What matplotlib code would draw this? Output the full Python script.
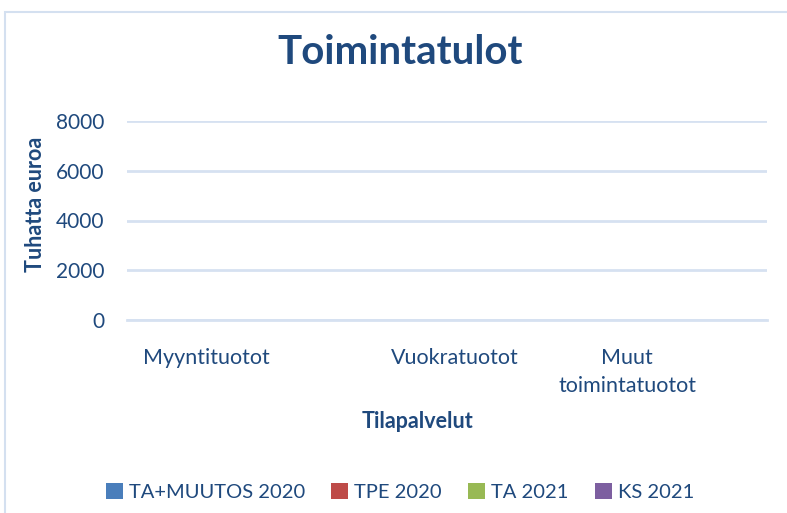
import matplotlib.pyplot as plt
import matplotlib.transforms as mtransforms
from matplotlib.patches import Rectangle
import numpy as np

plt.rcParams['font.family'] = ['Lato', 'DejaVu Sans']

categories = ['Myyntituotot', 'Vuokratuotot', 'Muut\ntoimintatuotot']
series_names = ['TA+MUUTOS 2020', 'TPE 2020', 'TA 2021', 'KS 2021']
ta_muutos_2020 = [0, 0, 0]
tpe_2020 = [0, 0, 0]
ta_2021 = [0, 0, 0]
ks_2021 = [0, 0, 0]
yticks = [0, 2000, 4000, 6000, 8000]

text_col = '#1F497D'
grid_col = '#D6E1F1'
colors = ['#4A7EBB', '#BE4B48', '#98B954', '#7D5FA0']

fig = plt.figure(figsize=(7.87, 5.13), dpi=100)
W, H = 787, 513
ax = fig.add_axes([127 / W, 1 - 320 / H, 640 / W, 199 / H])

x = np.arange(len(categories))
width = 0.15
all_series = [ta_muutos_2020, tpe_2020, ta_2021, ks_2021]
for i, (vals, name) in enumerate(zip(all_series, series_names)):
    ax.bar(x + (i - 1.5) * width, vals, width, color=colors[i], label=name, linewidth=0)

ax.set_ylim(0, 8000)
ax.set_xlim(-0.5, 2.5)
ax.set_yticks(yticks)
ax.set_yticklabels([str(v) for v in yticks])
ax.yaxis.grid(True, color=grid_col, linewidth=2)
ax.set_axisbelow(True)
for s in ax.spines.values():
    s.set_visible(False)
ax.axhline(0, color=grid_col, linewidth=2, clip_on=False)
ax.tick_params(axis='both', length=0, labelcolor=text_col)
ax.tick_params(axis='y', pad=16, labelsize=15)
ax.tick_params(axis='x', pad=20, labelsize=15.5)

ax.set_xticks(x)
ax.set_xticklabels(categories, linespacing=1.5)
offsets = [-27, 8, -33]
for lab, dx in zip(ax.get_xticklabels(), offsets):
    lab.set_transform(lab.get_transform() + mtransforms.ScaledTranslation(dx / 100, 0, fig.dpi_scale_trans))

fig.text(400 / W, 1 - 53 / H, 'Toimintatulot', ha='center', va='center',
         fontsize=29, fontweight='bold', color=text_col)
fig.text(35 / W, 1 - 204 / H, 'Tuhatta euroa', ha='center', va='center', rotation=90,
         fontsize=15.5, fontweight='bold', color=text_col)
fig.text(418 / W, 1 - 421 / H, 'Tilapalvelut', ha='center', va='center',
         fontsize=15.5, fontweight='bold', color=text_col)

leg = fig.legend(loc='center', bbox_to_anchor=(400 / W, 1 - 492 / H), ncol=4, frameon=False,
                 fontsize=14.5, handlelength=0.85, handleheight=0.85, handletextpad=0.3, columnspacing=1.3)
for t in leg.get_texts():
    t.set_color(text_col)

fig.patches.append(Rectangle((5 / W, -0.1), 1.2, 1 - 12 / H + 0.1, transform=fig.transFigure,
                             fill=False, edgecolor='#D4E0F0', linewidth=1.5))

fig.savefig('out.png', dpi=100)
